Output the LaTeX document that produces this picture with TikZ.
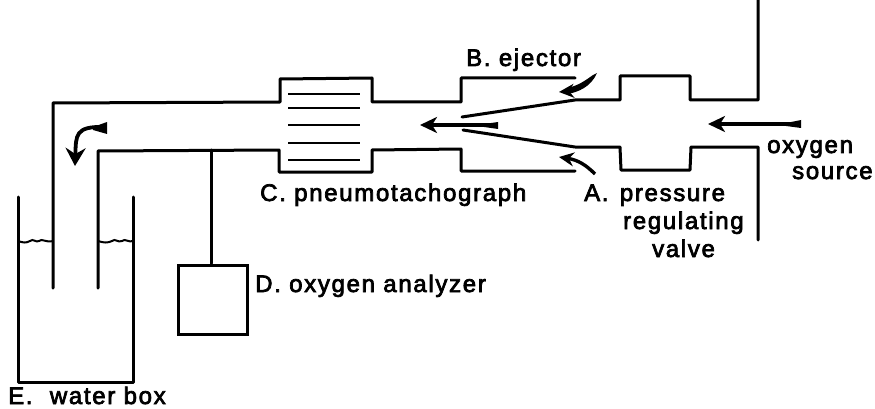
\documentclass[tikz,border=0pt]{standalone}
\usepackage{fontspec}
\setmainfont[FakeBold=3,LetterSpace=7]{Liberation Sans}
\usetikzlibrary{arrows.meta}
\tikzset{
  wall/.style={line width=3pt,line join=round,line cap=round},
  thinwall/.style={line width=3pt,line join=round,line cap=round},
  slat/.style={line width=2pt},
  flow/.style={line width=3.2pt,-{Stealth[length=17pt,width=16pt,inset=5pt]}},
  lab/.style={inner sep=0pt,font=\fontsize{24}{28}\selectfont,anchor=base west},
  blob/.style={fill=black,draw=none}
}
\begin{document}
\begin{tikzpicture}[x=1pt,y=-1pt]
\useasboundingbox (0,0) rectangle (875,409);
% upper wall
\draw[wall] (53,288) -- (53,103) -- (280,102) -- (280,79) -- (372,78) -- (372,102) -- (461,102) -- (461,78) -- (575,78);
\draw[wall] (462,117) -- (575,100) -- (620,100) -- (620,76) -- (690,76) -- (690,100) -- (758,100) -- (758,0);
% lower wall
\draw[wall] (98,288) -- (98,151) -- (279,150) -- (279,172) -- (372,172) -- (372,150) -- (461,149) -- (461,171) -- (575,171);
\draw[wall] (463,130) -- (575,147) -- (620,147) -- (621,170) -- (690,170) -- (691,147) -- (758,147) -- (758,240);
% pneumotachograph screens
\foreach \y in {94,108,125,143,160} \draw[slat] (288,\y) -- (360,\y);
% water box
\draw[wall] (18,197) -- (18,382) -- (133,382) -- (133,197);
\draw[slat] (18,241) .. controls (24,243) and (26,243) .. (30,241) .. controls (33,238) and (36,243) .. (39,241) .. controls (42,238) and (46,243) .. (53,241);
\draw[slat] (98,241) .. controls (104,243) and (108,243) .. (112,241) .. controls (115,238) and (118,243) .. (122,241) .. controls (125,238) and (129,243) .. (133,241);
% oxygen analyzer
\node[draw,line width=3pt,minimum width=69pt,minimum height=69pt,inner sep=0pt] (analyzer) at (212.5,299.5) {};
\coordinate (tap) at (211,150);
\draw[thinwall] (tap) -- (analyzer.north -| tap);
% flow arrows
\coordinate (jetTail) at (497,125); \coordinate (jetTip) at (420,125);
\draw[flow] (jetTail) -- (jetTip);
\path[blob] (484,124) -- (498,122) -- (498,129) -- (484,127) -- cycle;
\coordinate (srcTail) at (800,124); \coordinate (srcTip) at (708,124);
\draw[flow] (srcTail) -- (srcTip);
\path[blob] (786,123) -- (801,120) -- (801,128) -- (786,126) -- cycle;
\coordinate (bTip) at (559,92);
\path[blob] (597,73) .. controls (591,87) and (578,92) .. (568,94) -- (567,88) .. controls (578,86) and (586,80) .. (593,75) -- cycle;
\draw[line width=2.6pt,-{Stealth[length=15pt,width=14pt,inset=5pt]}] (572,91) -- (bTip);
\coordinate (aTail) at (595,174); \coordinate (aTip) at (559,157);
\draw[line width=3.4pt,-{Stealth[length=15pt,width=14pt,inset=5pt]}] (aTail) .. controls (586,165) and (578,160) .. (aTip);
\coordinate (rTail) at (105,127); \coordinate (rTip) at (75,166);
\draw[line width=3.8pt,-{Stealth[length=18pt,width=20pt,inset=6pt]}] (rTail) .. controls (75,126) and (76,135) .. (rTip);
\path[blob] (93,127) -- (107,122) -- (107,134) -- (93,130) -- cycle;
% labels
\node[lab] (lb) at (466,66) {B. ejector};
\node[lab] (lc) at (260,201) {C. pneumotachograph};
\node[lab] (la) at (584,201) {A.\hspace{3pt} pressure};
\node[lab] (la2) at (623,229) {regulating};
\node[lab] (la3) at (652,257) {valve};
\node[lab] (lo) at (767,153) {oxygen};
\node[lab] (lo2) at (792,179) {source};
\node[lab] (ld) at (255,292) {D. oxygen analyzer};
\node[lab] (le) at (8,404) {E.\hspace{9pt} water box};
\end{tikzpicture}
\end{document}
